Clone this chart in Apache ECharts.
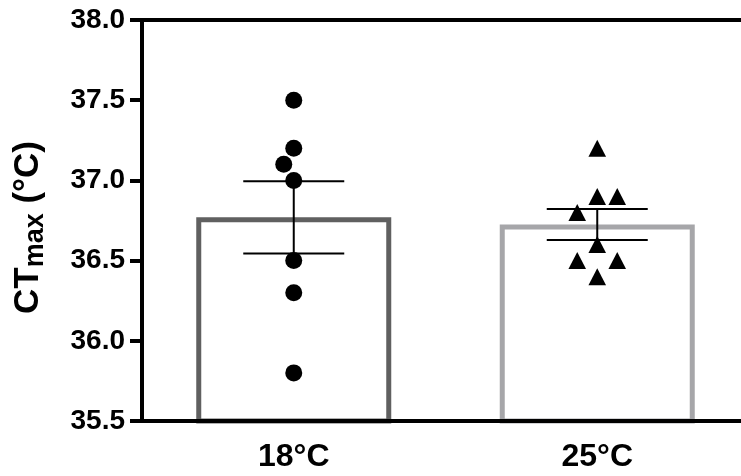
<!DOCTYPE html>
<html><head><meta charset="utf-8">
<script src="https://cdn.jsdelivr.net/npm/echarts@6/dist/echarts.min.js"></script>
<style>html,body{margin:0;padding:0;background:#fff}#c{width:741px;height:476px}</style>
</head><body><div id="c"></div>
<script>
// ---- data ----
const categories = ['18°C', '25°C'];
const meanValues = [36.77, 36.725];
const semValues = [0.225, 0.097];
const points18 = [37.5, 37.2, 37.1, 37.0, 36.5, 36.3, 35.8];
const points25 = [37.2, 36.9, 36.8, 36.9, 36.6, 36.5, 36.5, 36.4];
const yTicks = [35.5, 36.0, 36.5, 37.0, 37.5, 38.0];

// ---- style ----
const FONT = "'Liberation Sans', Arial, Helvetica, sans-serif";
const barBorders = ['#606060', '#a6a6a9'];

// beeswarm: place points (in given order) avoiding overlap; alternate sides on collision
function swarm(values, catIndex, api, step, thr) {
  const placed = [];
  let pref = -1;
  return values.map(function (v) {
    const p = api.coord([catIndex, v]);
    let chosen = 0;
    const cands = [0];
    for (let k = 1; k <= 4; k++) { cands.push(pref * k * step, -pref * k * step); }
    for (let c = 0; c < cands.length; c++) {
      const dx0 = cands[c];
      const ok = placed.every(function (q) {
        const dx = p[0] + dx0 - q[0], dy = p[1] - q[1];
        return Math.sqrt(dx * dx + dy * dy) >= thr;
      });
      if (ok) { chosen = dx0; break; }
    }
    if (chosen !== 0) pref = -pref;
    placed.push([p[0] + chosen, p[1]]);
    return [p[0] + chosen, p[1]];
  });
}

function pointSeries(values, catIndex, shape, step) {
  return {
    type: 'custom',
    z: 6,
    data: values.map(function (v) { return [catIndex, v]; }),
    encode: { x: 0, y: 1 },
    renderItem: function (params, api) {
      const pos = swarm(values, catIndex, api, step, 16.5)[params.dataIndex];
      if (shape === 'circle') {
        return { type: 'circle', shape: { cx: pos[0], cy: pos[1], r: 8.5 }, style: { fill: '#000' } };
      }
      const hw = 8.8, hh = 8.5;
      return { type: 'polygon', shape: { points: [[pos[0], pos[1] - hh], [pos[0] + hw, pos[1] + hh], [pos[0] - hw, pos[1] + hh]] }, style: { fill: '#000' } };
    }
  };
}

const chart = echarts.init(document.getElementById('c'), null, { renderer: 'canvas' });
chart.setOption({
  animation: false,
  backgroundColor: '#fff',
  grid: { left: 142, top: 20, width: 607, bottom: 55, containLabel: false, outerBoundsMode: 'none' },
  xAxis: [{
    type: 'category',
    data: categories,
    z: 3,
    axisLine: { lineStyle: { color: '#000', width: 4 } },
    axisTick: { alignWithLabel: true, length: 10, lineStyle: { color: '#000', width: 4 } },
    axisLabel: { fontSize: 32, fontWeight: 'bold', color: '#000', fontFamily: FONT, margin: 20 },
    splitLine: { show: false }
  }, {
    type: 'category',
    data: categories,
    position: 'top',
    z: 3,
    axisLine: { lineStyle: { color: '#000', width: 4 } },
    axisTick: { show: false },
    axisLabel: { show: false }
  }],
  yAxis: {
    type: 'value',
    min: yTicks[0],
    max: yTicks[yTicks.length - 1],
    interval: yTicks[1] - yTicks[0],
    z: 3,
    axisLine: { show: true, lineStyle: { color: '#000', width: 4 } },
    axisTick: { show: true, length: 12, lineStyle: { color: '#000', width: 4 } },
    axisLabel: { fontSize: 28, fontWeight: 'bold', color: '#000', fontFamily: FONT, margin: 17,
      formatter: function (v) { return v.toFixed(1); } },
    splitLine: { show: false },
    name: '{a|CT}{b|max}{a| (°C)}',
    nameLocation: 'middle',
    nameGap: 93,
    nameTextStyle: {
      padding: [0, 14, 0, 0],
      rich: {
        a: { fontSize: 35, fontWeight: 'bold', color: '#000', fontFamily: FONT, lineHeight: 42 },
        b: { fontSize: 27, fontWeight: 'bold', color: '#000', fontFamily: FONT, lineHeight: 27, verticalAlign: 'bottom' }
      }
    }
  },
  series: [{
    type: 'bar',
    data: meanValues.map(function (v, i) {
      return { value: v, itemStyle: { color: '#fff', borderColor: barBorders[i], borderWidth: 5 } };
    }),
    barWidth: 195,
    clip: true,
    z: 2
  }, {
    type: 'custom',
    z: 5,
    data: meanValues.map(function (m, i) { return [i, m, semValues[i]]; }),
    encode: { x: 0, y: 1 },
    renderItem: function (params, api) {
      const i = api.value(0), m = api.value(1), s = api.value(2);
      const top = api.coord([i, m + s]), bot = api.coord([i, m - s]);
      const half = 50.5;
      const st = { stroke: '#000', lineWidth: 2 };
      return { type: 'group', children: [
        { type: 'line', shape: { x1: top[0], y1: top[1], x2: bot[0], y2: bot[1] }, style: st },
        { type: 'line', shape: { x1: top[0] - half, y1: top[1], x2: top[0] + half, y2: top[1] }, style: st },
        { type: 'line', shape: { x1: bot[0] - half, y1: bot[1], x2: bot[0] + half, y2: bot[1] }, style: st }
      ] };
    }
  },
  pointSeries(points18, 0, 'circle', 10),
  pointSeries(points25, 1, 'triangle', 20)
  ]
});
</script>
</body></html>
